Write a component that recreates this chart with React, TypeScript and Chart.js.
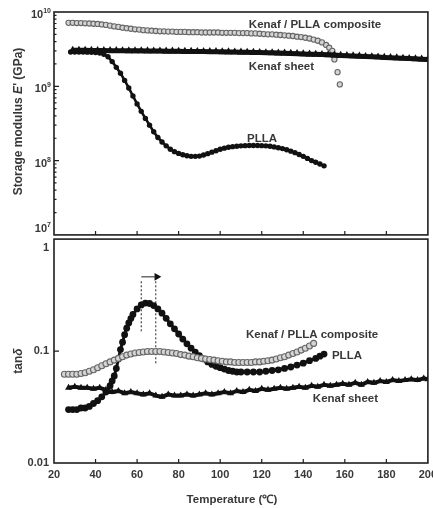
import React, { useEffect, useRef } from 'react';
import { Chart, registerables } from 'chart.js';

Chart.register(...registerables);

// ---------- axes ----------
const X_MIN = 20;
const X_MAX = 200;
const X_TICKS = [20, 40, 60, 80, 100, 120, 140, 160, 180, 200];
const X_TICK_LABELS = ['20', '40', '60', '80', '100', '120', '140', '160', '180', '200'];

const TOP_Y_TICKS = [1e7, 1e8, 1e9, 1e10];
const TOP_Y_EXPONENTS = ['7', '8', '9', '10'];
const BOT_Y_TICKS = [0.01, 0.1, 1];
const BOT_Y_LABELS = ['0.01', '0.1', '1'];

// ---------- top panel: storage modulus E' ----------
const COMP_E_T = [27, 29, 31, 33, 35, 37, 39, 41, 43, 45, 47, 49, 51, 53, 55, 57, 59, 61, 63, 65, 67, 69, 71, 73, 75, 77, 79, 81, 83, 85, 87, 89, 91, 93, 95, 97, 99, 101, 103, 105, 107, 109, 111, 113, 115, 117, 119, 121, 123, 125, 127, 129, 131, 133, 135, 137, 139, 141, 143, 145, 147, 149, 151, 152.5, 154, 155, 156.5, 157.6];
const COMP_E = [7.15e9, 7.15e9, 7.1e9, 7.1e9, 7.05e9, 7.0e9, 6.95e9, 6.9e9, 6.8e9, 6.7e9, 6.55e9, 6.4e9, 6.3e9, 6.15e9, 6.05e9, 5.95e9, 5.85e9, 5.8e9, 5.7e9, 5.65e9, 5.6e9, 5.55e9, 5.5e9, 5.5e9, 5.45e9, 5.45e9, 5.4e9, 5.4e9, 5.4e9, 5.35e9, 5.35e9, 5.35e9, 5.3e9, 5.3e9, 5.3e9, 5.3e9, 5.3e9, 5.25e9, 5.25e9, 5.25e9, 5.25e9, 5.2e9, 5.2e9, 5.2e9, 5.15e9, 5.15e9, 5.1e9, 5.05e9, 5.0e9, 5.0e9, 4.95e9, 4.9e9, 4.85e9, 4.8e9, 4.75e9, 4.65e9, 4.6e9, 4.5e9, 4.4e9, 4.25e9, 4.1e9, 3.9e9, 3.6e9, 3.3e9, 3.0e9, 2.3e9, 1.55e9, 1.06e9];

const KENAF_E_T = [29, 32, 35, 38, 41, 44, 47, 50, 53, 56, 59, 62, 65, 68, 71, 74, 77, 80, 83, 86, 89, 92, 95, 98, 101, 104, 107, 110, 113, 116, 119, 122, 125, 128, 131, 134, 137, 140, 143, 146, 149, 152, 155, 158, 161, 164, 167, 170, 173, 176, 179, 182, 185, 188, 191, 194, 197, 200];
const KENAF_E = [3.05e9, 3.05e9, 3.05e9, 3.04e9, 3.03e9, 3.03e9, 3.02e9, 3.02e9, 3.01e9, 3.0e9, 3.0e9, 3.0e9, 2.99e9, 2.98e9, 2.98e9, 2.97e9, 2.97e9, 2.96e9, 2.95e9, 2.95e9, 2.94e9, 2.93e9, 2.92e9, 2.92e9, 2.91e9, 2.9e9, 2.89e9, 2.88e9, 2.87e9, 2.86e9, 2.85e9, 2.83e9, 2.82e9, 2.8e9, 2.79e9, 2.77e9, 2.75e9, 2.73e9, 2.71e9, 2.69e9, 2.67e9, 2.65e9, 2.63e9, 2.6e9, 2.58e9, 2.56e9, 2.54e9, 2.52e9, 2.5e9, 2.48e9, 2.45e9, 2.43e9, 2.41e9, 2.38e9, 2.36e9, 2.34e9, 2.32e9, 2.3e9];

const PLLA_E_T = [28, 30, 32, 34, 36, 38, 40, 42, 44, 46, 48, 50, 52, 54, 56, 58, 60, 62, 64, 66, 68, 70, 72, 74, 76, 78, 80, 82, 84, 86, 88, 90, 92, 94, 96, 98, 100, 102, 104, 106, 108, 110, 112, 114, 116, 118, 120, 122, 124, 126, 128, 130, 132, 134, 136, 138, 140, 142, 144, 146, 148, 150];
const PLLA_E = [2.9e9, 2.9e9, 2.9e9, 2.9e9, 2.88e9, 2.87e9, 2.85e9, 2.8e9, 2.7e9, 2.5e9, 2.15e9, 1.8e9, 1.5e9, 1.2e9, 9.5e8, 7.4e8, 5.8e8, 4.6e8, 3.7e8, 3.0e8, 2.45e8, 2.05e8, 1.78e8, 1.58e8, 1.42e8, 1.32e8, 1.25e8, 1.2e8, 1.16e8, 1.14e8, 1.14e8, 1.15e8, 1.19e8, 1.24e8, 1.3e8, 1.36e8, 1.42e8, 1.47e8, 1.51e8, 1.54e8, 1.56e8, 1.58e8, 1.59e8, 1.6e8, 1.6e8, 1.6e8, 1.59e8, 1.58e8, 1.56e8, 1.53e8, 1.49e8, 1.45e8, 1.4e8, 1.34e8, 1.28e8, 1.21e8, 1.14e8, 1.07e8, 1.0e8, 9.5e7, 9.0e7, 8.5e7];

// ---------- bottom panel: tan delta ----------
const PLLA_TAN_T = [27, 29, 31, 33, 35, 37, 39, 41, 43, 45, 47, 48, 49, 50, 51, 52, 53, 54, 55, 56, 57, 58, 60, 62, 64, 66, 68, 70, 72, 74, 76, 78, 80, 82, 84, 86, 88, 90, 92, 94, 96, 98, 100, 102, 104, 106, 108, 110, 113, 116, 119, 122, 125, 128, 131, 134, 137, 140, 143, 146, 148, 150];
const PLLA_TAN = [0.030, 0.030, 0.030, 0.031, 0.031, 0.032, 0.034, 0.036, 0.039, 0.043, 0.049, 0.054, 0.060, 0.070, 0.085, 0.103, 0.12, 0.14, 0.16, 0.178, 0.195, 0.212, 0.238, 0.258, 0.268, 0.266, 0.255, 0.238, 0.218, 0.196, 0.175, 0.158, 0.142, 0.128, 0.116, 0.106, 0.098, 0.091, 0.085, 0.08, 0.076, 0.073, 0.071, 0.069, 0.067, 0.066, 0.065, 0.065, 0.065, 0.065, 0.065, 0.066, 0.067, 0.068, 0.07, 0.072, 0.075, 0.078, 0.082, 0.086, 0.09, 0.094];

const COMP_TAN_T = [25, 27, 29, 31, 33, 35, 37, 39, 41, 43, 45, 47, 49, 51, 53, 55, 57, 59, 61, 63, 65, 67, 69, 71, 73, 75, 77, 79, 81, 83, 85, 87, 89, 91, 93, 95, 97, 99, 101, 103, 105, 107, 109, 111, 113, 115, 117, 119, 121, 123, 125, 127, 129, 131, 133, 135, 137, 139, 141, 143, 145];
const COMP_TAN = [0.062, 0.062, 0.062, 0.062, 0.063, 0.064, 0.066, 0.068, 0.071, 0.074, 0.077, 0.080, 0.083, 0.086, 0.089, 0.092, 0.094, 0.096, 0.097, 0.098, 0.099, 0.099, 0.099, 0.099, 0.098, 0.097, 0.096, 0.095, 0.093, 0.092, 0.09, 0.089, 0.087, 0.086, 0.085, 0.084, 0.083, 0.082, 0.081, 0.08, 0.08, 0.079, 0.079, 0.079, 0.079, 0.079, 0.08, 0.08, 0.081, 0.082, 0.083, 0.085, 0.087, 0.089, 0.092, 0.095, 0.098, 0.102, 0.106, 0.111, 0.117];

const KENAF_TAN_T = [27, 30, 33, 36, 39, 42, 45, 48, 51, 54, 57, 60, 63, 66, 69, 72, 75, 78, 81, 84, 87, 90, 93, 96, 99, 102, 105, 108, 111, 114, 117, 120, 123, 126, 129, 132, 135, 138, 141, 144, 147, 150, 153, 156, 159, 162, 165, 168, 171, 174, 177, 180, 183, 186, 189, 192, 195, 198, 200];
const KENAF_TAN = [0.047, 0.048, 0.047, 0.047, 0.046, 0.047, 0.045, 0.043, 0.044, 0.042, 0.043, 0.042, 0.041, 0.042, 0.040, 0.039, 0.041, 0.040, 0.040, 0.041, 0.040, 0.041, 0.042, 0.041, 0.042, 0.043, 0.042, 0.044, 0.043, 0.045, 0.044, 0.046, 0.045, 0.046, 0.047, 0.046, 0.047, 0.048, 0.047, 0.049, 0.048, 0.050, 0.049, 0.050, 0.051, 0.050, 0.052, 0.050, 0.053, 0.052, 0.054, 0.053, 0.055, 0.054, 0.055, 0.056, 0.055, 0.057, 0.056];

// peak-shift guide (temperatures of the two tan delta peaks, and arrow level)
const GUIDE_T = [62, 69];
const GUIDE_TOP = 0.42;
const GUIDE_BOTTOM = [0.15, 0.078];
const ARROW_Y = 0.46;
const ARROW_T = [62, 69.5];

// labels
const TOP_LABELS = ['Kenaf / PLLA composite', 'Kenaf sheet', 'PLLA'];
const BOT_LABELS = ['Kenaf / PLLA composite', 'PLLA', 'Kenaf sheet'];
// label anchor positions (data coordinates: left x, middle y)
const TOP_LABEL_POS = [[113.8, 6.7e9], [113.8, 1.85e9], [112.9, 1.96e8]];
const BOT_LABEL_POS = [[112.4, 0.141], [153.8, 0.090], [144.6, 0.0376]];

const FONT = '"Liberation Sans", Arial, Helvetica, sans-serif';
const INK = '#1e1e1e';
const TXT = '#383838';

const pts = (xs: number[], ys: number[]) => xs.map((x, i) => ({ x, y: ys[i] }));

type PanelCfg = {
  yTicks: number[];
  minor: boolean;
  drawYLabels: (ctx: CanvasRenderingContext2D, ys: any, a: any) => void;
  xLabels: boolean;
  labels: string[];
  labelPos: number[][];
  yTitle: { t: string; f: string }[];
  yTitleShift: number;
};

function panelPlugin(p: PanelCfg) {
  return {
    id: 'panelDecor',
    afterDraw(chart: any) {
      const { ctx, chartArea: a } = chart;
      const xs = chart.scales.x;
      const ys = chart.scales.y;
      ctx.save();
      // frame
      ctx.strokeStyle = INK;
      ctx.lineWidth = 1.6;
      ctx.strokeRect(a.left, a.top, a.right - a.left, a.bottom - a.top);
      // inward ticks
      ctx.lineWidth = 1.2;
      ctx.beginPath();
      X_TICKS.forEach((t) => {
        if (t > X_MIN && t < X_MAX) {
          const px = xs.getPixelForValue(t);
          ctx.moveTo(px, a.bottom);
          ctx.lineTo(px, a.bottom - 4);
        }
      });
      p.yTicks.forEach((v) => {
        const py = ys.getPixelForValue(v);
        if (py > a.top + 1 && py < a.bottom - 1) {
          ctx.moveTo(a.left, py);
          ctx.lineTo(a.left + 5, py);
        }
      });
      if (p.minor) {
        for (let i = 0; i < p.yTicks.length - 1; i++) {
          for (let k = 2; k <= 9; k++) {
            const py = ys.getPixelForValue(p.yTicks[i] * k);
            ctx.moveTo(a.left, py);
            ctx.lineTo(a.left + 2.5, py);
          }
        }
      }
      ctx.stroke();

      ctx.fillStyle = TXT;
      p.drawYLabels(ctx, ys, a);

      if (p.xLabels) {
        ctx.font = `bold 11px ${FONT}`;
        ctx.textAlign = 'center';
        ctx.textBaseline = 'middle';
        X_TICKS.forEach((t, i) => {
          ctx.fillText(X_TICK_LABELS[i], xs.getPixelForValue(t), a.bottom + 12);
        });
        ctx.font = `bold 11.5px ${FONT}`;
        ctx.fillText('Temperature (\u2103)', (a.left + a.right) / 2 - 9, a.bottom + 37);
      }

      // series labels
      ctx.font = `bold 11.5px ${FONT}`;
      ctx.textAlign = 'left';
      ctx.textBaseline = 'middle';
      p.labels.forEach((s, i) => {
        const [lx, ly] = p.labelPos[i];
        ctx.fillText(s, xs.getPixelForValue(lx), ys.getPixelForValue(ly));
      });

      // y title (rotated, mixed fonts)
      ctx.save();
      ctx.translate(19, (a.top + a.bottom) / 2 + p.yTitleShift);
      ctx.rotate(-Math.PI / 2);
      let total = 0;
      p.yTitle.forEach((seg) => {
        ctx.font = seg.f;
        total += ctx.measureText(seg.t).width;
      });
      let cx = -total / 2;
      p.yTitle.forEach((seg) => {
        ctx.font = seg.f;
        ctx.fillText(seg.t, cx, 0);
        cx += ctx.measureText(seg.t).width;
      });
      ctx.restore();
      ctx.restore();
    },
  };
}

function drawTopYLabels(ctx: CanvasRenderingContext2D, ys: any) {
  const right = 51;
  TOP_Y_TICKS.forEach((v, i) => {
    const off = i === 0 ? -6 : 3;
    const py = ys.getPixelForValue(v) + off;
    ctx.font = `bold 7px ${FONT}`;
    const ew = ctx.measureText(TOP_Y_EXPONENTS[i]).width;
    ctx.textBaseline = 'middle';
    ctx.textAlign = 'right';
    ctx.font = `bold 11px ${FONT}`;
    ctx.fillText('10', right - ew, py);
    ctx.textAlign = 'left';
    ctx.font = `bold 7px ${FONT}`;
    ctx.fillText(TOP_Y_EXPONENTS[i], right - ew, py - 4);
  });
}

function drawBotYLabels(ctx: CanvasRenderingContext2D, ys: any) {
  ctx.font = `bold 11px ${FONT}`;
  ctx.textAlign = 'right';
  ctx.textBaseline = 'middle';
  BOT_Y_TICKS.forEach((v, i) => {
    const off = i === BOT_Y_TICKS.length - 1 ? 9 : 0;
    ctx.fillText(BOT_Y_LABELS[i], 49, ys.getPixelForValue(v) + off);
  });
}

const compStyle = {
  showLine: false,
  pointStyle: 'circle',
  pointRadius: 2.6,
  pointBorderWidth: 1.1,
  pointBorderColor: '#666',
  pointBackgroundColor: '#d4d4d4',
};

function baseOptions(yMin: number, yMax: number, padding: any) {
  return {
    animation: false as const,
    responsive: false,
    maintainAspectRatio: false,
    events: [],
    layout: { padding },
    plugins: { legend: { display: false }, tooltip: { enabled: false } },
    scales: {
      x: { type: 'linear' as const, min: X_MIN, max: X_MAX, display: false },
      y: { type: 'logarithmic' as const, min: yMin, max: yMax, display: false },
    },
  };
}

export default function App() {
  const topRef = useRef<HTMLCanvasElement>(null);
  const botRef = useRef<HTMLCanvasElement>(null);

  useEffect(() => {
    const top = new Chart(topRef.current as HTMLCanvasElement, {
      type: 'scatter',
      data: {
        datasets: [
          {
            data: pts(KENAF_E_T, KENAF_E),
            showLine: true,
            borderColor: '#111',
            borderWidth: 5,
            pointStyle: 'triangle',
            pointRadius: 4.6,
            pointBackgroundColor: '#111',
            pointBorderColor: '#111',
            pointBorderWidth: 0,
          } as any,
          {
            data: pts(PLLA_E_T, PLLA_E),
            showLine: true,
            borderColor: '#111',
            borderWidth: 2.6,
            pointStyle: 'circle',
            pointRadius: 2.7,
            pointBackgroundColor: '#111',
            pointBorderColor: '#111',
            pointBorderWidth: 0,
          } as any,
          { data: pts(COMP_E_T, COMP_E), ...compStyle } as any,
        ],
      },
      options: baseOptions(TOP_Y_TICKS[0], TOP_Y_TICKS[TOP_Y_TICKS.length - 1], { left: 54, right: 5, top: 12, bottom: 3 }) as any,
      plugins: [
        panelPlugin({
          yTicks: TOP_Y_TICKS,
          minor: true,
          drawYLabels: drawTopYLabels,
          xLabels: false,
          labels: TOP_LABELS,
          labelPos: TOP_LABEL_POS,
          yTitle: [
            { t: 'Storage modulus ', f: `bold 12px ${FONT}` },
            { t: 'E', f: `italic bold 12px ${FONT}` },
            { t: "' (GPa)", f: `bold 12px ${FONT}` },
          ],
          yTitleShift: -2,
        }),
      ],
    });

    const guideStyle = {
      showLine: true,
      borderColor: '#222',
      borderWidth: 1,
      borderDash: [2, 2],
      pointRadius: 0,
    };

    const bot = new Chart(botRef.current as HTMLCanvasElement, {
      type: 'scatter',
      data: {
        datasets: [
          {
            data: pts(KENAF_TAN_T, KENAF_TAN),
            showLine: true,
            borderColor: '#111',
            borderWidth: 4,
            pointStyle: 'triangle',
            pointRadius: 4,
            pointBackgroundColor: '#111',
            pointBorderColor: '#111',
            pointBorderWidth: 0,
          } as any,
          { data: pts(COMP_TAN_T, COMP_TAN), ...compStyle, pointRadius: 3 } as any,
          {
            data: pts(PLLA_TAN_T, PLLA_TAN),
            showLine: true,
            borderColor: '#111',
            borderWidth: 3,
            pointStyle: 'circle',
            pointRadius: 3.4,
            pointBackgroundColor: '#111',
            pointBorderColor: '#111',
            pointBorderWidth: 0,
          } as any,
          { data: [{ x: GUIDE_T[0], y: GUIDE_TOP }, { x: GUIDE_T[0], y: GUIDE_BOTTOM[0] }], ...guideStyle } as any,
          { data: [{ x: GUIDE_T[1], y: GUIDE_TOP }, { x: GUIDE_T[1], y: GUIDE_BOTTOM[1] }], ...guideStyle } as any,
          { data: [{ x: ARROW_T[0], y: ARROW_Y }, { x: ARROW_T[1], y: ARROW_Y }], ...guideStyle, borderDash: [] } as any,
          {
            data: [{ x: ARROW_T[1], y: ARROW_Y }],
            pointStyle: 'triangle',
            rotation: 90,
            pointRadius: 4.5,
            pointBackgroundColor: '#111',
            pointBorderColor: '#111',
            pointBorderWidth: 0,
          } as any,
        ],
      },
      options: baseOptions(BOT_Y_TICKS[0], BOT_Y_TICKS[BOT_Y_TICKS.length - 1], { left: 54, right: 5, top: 3, bottom: 45 }) as any,
      plugins: [
        panelPlugin({
          yTicks: BOT_Y_TICKS,
          minor: false,
          drawYLabels: drawBotYLabels,
          xLabels: true,
          labels: BOT_LABELS,
          labelPos: BOT_LABEL_POS,
          yTitle: [
            { t: 'tan', f: `bold 12px ${FONT}` },
            { t: '\u03b4', f: `italic bold 12px ${FONT}` },
          ],
          yTitleShift: 10,
        }),
      ],
    });

    return () => {
      top.destroy();
      bot.destroy();
    };
  }, []);

  return (
    <div style={{ position: 'fixed', left: 0, top: 0, width: 433, height: 508, background: '#fff', overflow: 'hidden' }}>
      <canvas ref={topRef} width={433} height={240} style={{ position: 'absolute', left: 0, top: 0 }} />
      <canvas ref={botRef} width={433} height={274} style={{ position: 'absolute', left: 0, top: 234 }} />
    </div>
  );
}
